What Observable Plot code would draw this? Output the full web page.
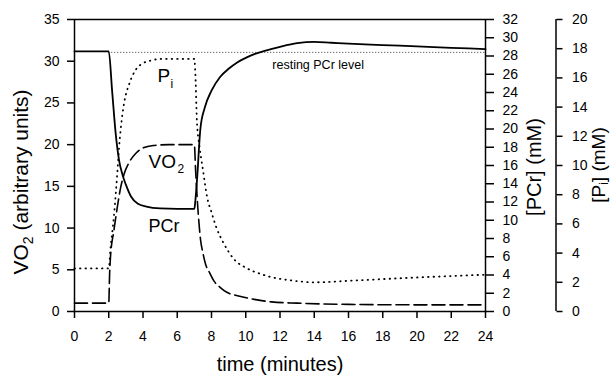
<!DOCTYPE html>
<html><head><meta charset="utf-8">
<script src="https://cdn.jsdelivr.net/npm/d3@7"></script>
<script src="https://cdn.jsdelivr.net/npm/@observablehq/plot@0.6"></script>
<style>
body{margin:0;background:#fff;}
svg{font-family:"Liberation Sans",Arial,Helvetica,sans-serif;}
</style>
</head><body><div id="chart"></div>
<script>
// ---- data ----
const xTicks = [0,2,4,6,8,10,12,14,16,18,20,22,24];
const vo2Ticks = [0,5,10,15,20,25,30,35];
const pcrTicks = [0,2,4,6,8,10,12,14,16,18,20,22,24,26,28,30,32];
const piTicks = [0,2,4,6,8,10,12,14,16,18,20];

const vo2Time = [0,2,2.05,2.1,2.3,2.5,2.7,2.9,3.2,3.6,4.0,4.6,5.5,7.0,7.07,7.2,7.36,7.5,7.65,7.9,8.13,8.5,8.9,9.4,9.9,10.5,11.5,13,16,20,24];
const vo2Values = [1.0,1.0,4.5,6.5,9.7,12.5,14.9,16.5,17.9,19.0,19.6,19.9,20.0,20.0,17.0,12.5,8.6,7.0,5.7,4.6,3.7,2.9,2.3,1.95,1.7,1.45,1.15,1.0,0.85,0.8,0.8];

const pcrTime = [0,2,2.2,2.4,2.6,2.8,3.0,3.3,3.7,4.2,5.0,6.0,7.0,7.05,7.15,7.35,7.6,8.0,8.5,9.0,9.5,10,10.5,11,12,13,14,15,16,18,20,22,24];
const pcrValues = [28.5,28.5,24.1,19.6,16.6,15.0,13.9,12.6,11.8,11.5,11.3,11.25,11.25,12.0,14.3,20.0,22.3,24.2,25.7,26.6,27.3,27.8,28.2,28.5,29.0,29.4,29.55,29.45,29.35,29.2,29.05,28.9,28.75];

const piTime = [0,2,2.1,2.3,2.5,2.6,2.7,2.9,3.2,3.6,4.0,4.5,5.0,7.0,7.05,7.15,7.3,7.5,7.75,8.0,8.3,8.7,9.3,10,10.8,11.5,12.5,14,16,18,20,22,24];
const piValues = [2.95,2.95,4.3,6.5,9.5,11.2,12.5,14.3,15.6,16.6,17.0,17.2,17.3,17.3,16.5,13.0,11.3,9.7,7.8,6.8,5.7,4.7,3.6,3.0,2.6,2.35,2.15,2.0,2.1,2.22,2.33,2.43,2.52];

const restingPCr = [28.4];

// scale maxima for the three axes
const vo2Max = 35, pcrMax = 32, piMax = 20;
const pcrK = vo2Max / pcrMax, piK = vo2Max / piMax;

const vo2Data = vo2Time.map((t,i)=>({t, v: vo2Values[i]}));
const pcrData = pcrTime.map((t,i)=>({t, v: pcrValues[i]}));
const piData = piTime.map((t,i)=>({t, v: piValues[i]}));

const plot = Plot.plot({
  width: 613, height: 376,
  marginLeft: 74, marginRight: 128, marginTop: 19, marginBottom: 65,
  style: {fontFamily: "Liberation Sans, Arial, sans-serif", fontSize: "14px", color: "#000", background: "#fff", overflow: "visible"},
  x: {domain: [0, 24]},
  y: {domain: [0, vo2Max]},
  marks: [
    Plot.frame({strokeWidth: 1.5}),
    Plot.axisX({ticks: xTicks, tickSize: 7, tickPadding: 13, label: null, fontSize: 14, strokeWidth: 1.5}),
    Plot.axisY({anchor: "left", ticks: vo2Ticks, tickSize: 7, tickPadding: 8, label: null, fontSize: 14, strokeWidth: 1.5}),
    Plot.axisY({anchor: "right", ticks: pcrTicks.map(v => v * pcrK), tickFormat: d => Math.round(d / pcrK), tickSize: 8, tickPadding: 9, label: null, fontSize: 14, strokeWidth: 1.5}),
    Plot.ruleX([24], {y1: 0, y2: vo2Max, dx: 70.5, strokeWidth: 1.5}),
    Plot.axisY({anchor: "right", ticks: piTicks.map(v => v * piK), tickFormat: d => Math.round(d / piK), tickSize: 6, tickPadding: 10, dx: 70.5, label: null, fontSize: 14, strokeWidth: 1.5}),
    Plot.ruleY(restingPCr, {y: d => d * pcrK, x1: 2, x2: 24, stroke: "#333", strokeWidth: 1, strokeDasharray: "1,2"}),
    Plot.line(piData, {x: "t", y: d => d.v * piK, curve: "monotone-x", strokeWidth: 1.8, strokeDasharray: "0.5,5", strokeLinecap: "round"}),
    Plot.line(vo2Data, {x: "t", y: "v", curve: "monotone-x", strokeWidth: 1.6, strokeDasharray: "13,5"}),
    Plot.line(pcrData, {x: "t", y: d => d.v * pcrK, curve: "monotone-x", strokeWidth: 1.8}),
    Plot.text(["resting PCr level"], {x: 11.55, y: 29.6, text: d => d, textAnchor: "start", fontSize: 12.5}),
    Plot.text(["P"], {x: 4.85, y: 27.5, text: d => d, textAnchor: "start", fontSize: 19, lineAnchor: "bottom"}),
    Plot.text(["i"], {x: 4.85, y: 27.5, dx: 13, dy: 6, text: d => d, textAnchor: "start", fontSize: 12, lineAnchor: "bottom"}),
    Plot.text(["VO"], {x: 4.32, y: 17.26, text: d => d, textAnchor: "start", fontSize: 19, lineAnchor: "bottom"}),
    Plot.text(["2"], {x: 4.32, y: 17.26, dx: 29, dy: 5, text: d => d, textAnchor: "start", fontSize: 12, lineAnchor: "bottom"}),
    Plot.text(["PCr"], {x: 4.32, y: 9.47, text: d => d, textAnchor: "start", fontSize: 18, lineAnchor: "bottom"})
  ]
});
document.getElementById("chart").appendChild(plot);

// axis titles
const svg = d3.select(plot);
const ff = "Liberation Sans, Arial, sans-serif";
svg.append("text").attr("x", 280).attr("y", 371).attr("text-anchor", "middle")
  .attr("font-size", 20).attr("font-family", ff).attr("fill", "#000").text("time (minutes)");

const lt = svg.append("text").attr("transform", "translate(28,182) rotate(-90)").attr("text-anchor", "middle")
  .attr("font-size", 21).attr("font-family", ff).attr("fill", "#000");
lt.append("tspan").text("VO");
lt.append("tspan").attr("font-size", 14).attr("dy", 5).text("2");
lt.append("tspan").attr("dy", -5).text(" (arbitrary units)");

svg.append("text").attr("transform", "translate(541,167) rotate(-90)").attr("text-anchor", "middle")
  .attr("font-size", 20).attr("font-family", ff).attr("fill", "#000").text("[PCr] (mM)");

const pt = svg.append("text").attr("transform", "translate(605,165) rotate(-90)").attr("text-anchor", "middle")
  .attr("font-size", 19).attr("font-family", ff).attr("fill", "#000");
pt.append("tspan").text("[P");
pt.append("tspan").attr("font-size", 12).attr("dy", 3).text("i");
pt.append("tspan").attr("dy", -3).text("] (mM)");
</script>
</body></html>
